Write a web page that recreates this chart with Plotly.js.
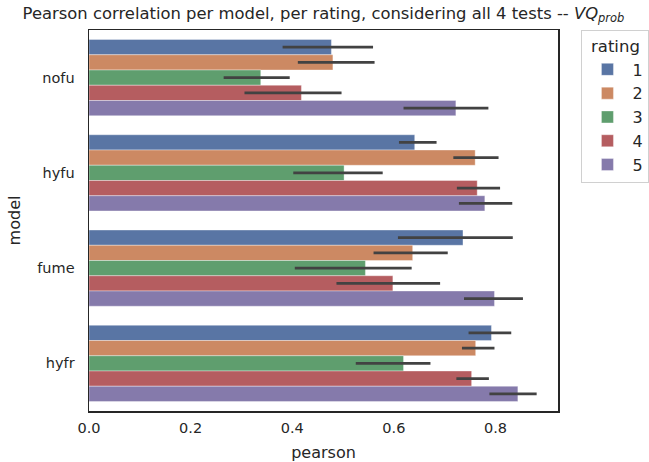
<!DOCTYPE html>
<html><head><meta charset="utf-8">
<script src="https://cdn.plot.ly/plotly-3.0.1.min.js"></script>
<style>body{margin:0;padding:0;background:#fff}#chart{width:649px;height:462px}</style>
</head><body><div id="chart"></div>
<script>
const models = ["nofu", "hyfu", "fume", "hyfr"];
const ratings = ["1", "2", "3", "4", "5"];
const colors = ["#5975a4", "#cc8963", "#5f9e6e", "#b55d60", "#857aab"];
// mean pearson per model for each rating
const r1 = [0.477, 0.641, 0.736, 0.792];
const r2 = [0.480, 0.760, 0.637, 0.761];
const r3 = [0.338, 0.502, 0.544, 0.619];
const r4 = [0.418, 0.764, 0.598, 0.753];
const r5 = [0.722, 0.779, 0.798, 0.844];
// confidence interval low / high
const lo1 = [0.381, 0.610, 0.608, 0.747];
const hi1 = [0.559, 0.684, 0.834, 0.831];
const lo2 = [0.411, 0.717, 0.560, 0.734];
const hi2 = [0.562, 0.806, 0.706, 0.798];
const lo3 = [0.265, 0.402, 0.405, 0.525];
const hi3 = [0.395, 0.578, 0.635, 0.672];
const lo4 = [0.306, 0.724, 0.487, 0.723];
const hi4 = [0.497, 0.809, 0.691, 0.787];
const lo5 = [0.619, 0.728, 0.738, 0.788];
const hi5 = [0.786, 0.833, 0.854, 0.881];

const means = [r1, r2, r3, r4, r5];
const los = [lo1, lo2, lo3, lo4, lo5];
const his = [hi1, hi2, hi3, hi4, hi5];

const traces = ratings.map((r, i) => ({
  type: "bar",
  orientation: "h",
  name: r,
  y: models,
  x: means[i],
  marker: {color: colors[i], line: {color: "rgba(255,255,255,0.6)", width: 0.6}},
  error_x: {
    type: "data",
    symmetric: false,
    array: his[i].map((h, k) => h - means[i][k]),
    arrayminus: los[i].map((l, k) => means[i][k] - l),
    color: "#424242",
    thickness: 2.7,
    width: 0
  }
}));

const font = "DejaVu Sans, sans-serif";
const layout = {
  width: 649, height: 462,
  margin: {l: 89, r: 91, t: 30, b: 51, autoexpand: false},
  paper_bgcolor: "#fff", plot_bgcolor: "#fff",
  font: {family: font, color: "#262626", size: 14.5},
  barmode: "group", bargap: 0.2, bargroupgap: 0,
  title: {text: "Pearson correlation per model, per rating, considering all 4 tests -- <i>VQ</i><sub><i>prob</i></sub>",
          font: {family: font, size: 16.4, color: "#262626"}, x: 0.5, xref: "paper", y: 0.972, yanchor: "middle"},
  xaxis: {
    range: [0, 0.923], tickvals: [0, 0.2, 0.4, 0.6, 0.8], ticktext: ["0.0", "0.2", "0.4", "0.6", "0.8"],
    showgrid: false, zeroline: false, showline: true, mirror: true, linecolor: "#262626", linewidth: 1.5,
    ticks: "", ticklabelstandoff: 3, title: {text: "pearson", font: {size: 16}, standoff: 12}
  },
  yaxis: {
    autorange: "reversed", range: [-0.5, 3.5],
    showgrid: false, zeroline: false, showline: true, mirror: true, linecolor: "#262626", linewidth: 1.5,
    ticks: "", ticklabelstandoff: 10, title: {text: "model", font: {size: 16}, standoff: 12}
  },
  legend: {
    title: {text: "rating", font: {size: 16.5}, side: "top center"},
    x: 1.05, xanchor: "left", y: 1, yanchor: "top",
    bordercolor: "#d0d0d0", borderwidth: 1, bgcolor: "#fff",
    font: {size: 16}, itemwidth: 40, tracegroupgap: 3
  },
  showlegend: true
};
Plotly.newPlot("chart", traces, layout, {displayModeBar: false, staticPlot: true});
</script></body></html>
